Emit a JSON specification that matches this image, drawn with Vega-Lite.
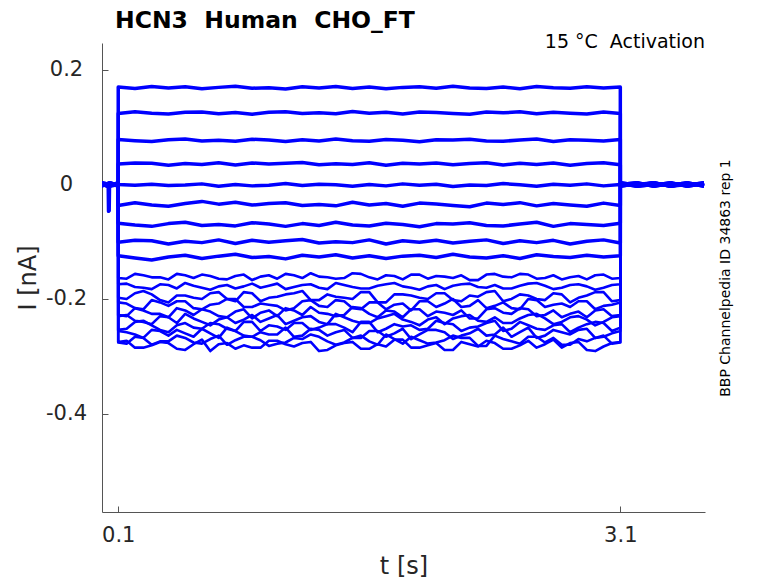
{
  "$schema": "https://vega.github.io/schema/vega-lite/v6.json",
  "width": 603,
  "height": 469,
  "autosize": {"type": "none"},
  "padding": {"left": 102, "top": 43, "right": 73, "bottom": 71},
  "background": "white",
  "config": {"view": {"stroke": null}, "font": "DejaVu Sans"},
  "title": {"text": "HCN3\u00a0 Human\u00a0 CHO_FT", "anchor": "start", "frame": "group", "dx": 13, "offset": -18.5, "baseline": "alphabetic", "fontSize": 23.5, "fontWeight": "bold", "color": "black", "font": "DejaVu Sans"},
  "data": {"values": [
    {"k":1,"t":0,"i":0.0015},{"k":1,"t":0.03,"i":-0.003},{"k":1,"t":0.04,"i":0},{"k":1,"t":0.042,"i":-0.047},{"k":1,"t":0.046,"i":-0.046},{"k":1,"t":0.048,"i":0},{"k":1,"t":0.0999,"i":0},
    {"k":1,"t":0.1,"i":0.170},{"k":1,"t":0.2,"i":0.1675},{"k":1,"t":0.3,"i":0.171},{"k":1,"t":0.4,"i":0.1685},{"k":1,"t":0.5,"i":0.1705},{"k":1,"t":0.6,"i":0.167},{"k":1,"t":0.7,"i":0.1695},{"k":1,"t":0.8,"i":0.1715},{"k":1,"t":0.9,"i":0.168},{"k":1,"t":1,"i":0.169},{"k":1,"t":1.1,"i":0.1665},{"k":1,"t":1.2,"i":0.1705},{"k":1,"t":1.3,"i":0.1685},{"k":1,"t":1.4,"i":0.171},{"k":1,"t":1.5,"i":0.1675},{"k":1,"t":1.6,"i":0.170},{"k":1,"t":1.7,"i":0.167},{"k":1,"t":1.8,"i":0.1695},{"k":1,"t":1.9,"i":0.1705},{"k":1,"t":2,"i":0.168},{"k":1,"t":2.1,"i":0.1715},{"k":1,"t":2.2,"i":0.1685},{"k":1,"t":2.3,"i":0.1675},{"k":1,"t":2.4,"i":0.170},{"k":1,"t":2.5,"i":0.167},{"k":1,"t":2.6,"i":0.171},{"k":1,"t":2.7,"i":0.169},{"k":1,"t":2.8,"i":0.168},{"k":1,"t":2.9,"i":0.1705},{"k":1,"t":3,"i":0.1685},{"k":1,"t":3.1,"i":0.170},
    {"k":1,"t":3.1001,"i":0.003},{"k":1,"t":3.2,"i":-0.0015},{"k":1,"t":3.3,"i":0.003},{"k":1,"t":3.4,"i":-0.003},{"k":1,"t":3.5,"i":0.0015},{"k":1,"t":3.6,"i":-0.0015},

    {"k":2,"t":0,"i":-0.0015},{"k":2,"t":0.05,"i":0.0015},{"k":2,"t":0.0999,"i":-0.003},
    {"k":2,"t":0.1,"i":0.124},{"k":2,"t":0.2,"i":0.127},{"k":2,"t":0.3,"i":0.1245},{"k":2,"t":0.4,"i":0.123},{"k":2,"t":0.5,"i":0.126},{"k":2,"t":0.6,"i":0.1265},{"k":2,"t":0.7,"i":0.1235},{"k":2,"t":0.8,"i":0.1255},{"k":2,"t":0.9,"i":0.1225},{"k":2,"t":1,"i":0.126},{"k":2,"t":1.1,"i":0.127},{"k":2,"t":1.2,"i":0.124},{"k":2,"t":1.3,"i":0.125},{"k":2,"t":1.4,"i":0.1235},{"k":2,"t":1.5,"i":0.1275},{"k":2,"t":1.6,"i":0.1245},{"k":2,"t":1.7,"i":0.126},{"k":2,"t":1.8,"i":0.123},{"k":2,"t":1.9,"i":0.1265},{"k":2,"t":2,"i":0.1255},{"k":2,"t":2.1,"i":0.124},{"k":2,"t":2.2,"i":0.1225},{"k":2,"t":2.3,"i":0.1265},{"k":2,"t":2.4,"i":0.125},{"k":2,"t":2.5,"i":0.127},{"k":2,"t":2.6,"i":0.1235},{"k":2,"t":2.7,"i":0.126},{"k":2,"t":2.8,"i":0.1245},{"k":2,"t":2.9,"i":0.123},{"k":2,"t":3,"i":0.1265},{"k":2,"t":3.1,"i":0.124},
    {"k":2,"t":3.1001,"i":-0.003},{"k":2,"t":3.2,"i":0.0015},{"k":2,"t":3.3,"i":-0.0015},{"k":2,"t":3.4,"i":0.003},{"k":2,"t":3.5,"i":-0.003},{"k":2,"t":3.6,"i":0.0015},

    {"k":3,"t":0,"i":0.003},{"k":3,"t":0.05,"i":0},{"k":3,"t":0.0999,"i":0.0015},
    {"k":3,"t":0.1,"i":0.0785},{"k":3,"t":0.2,"i":0.0765},{"k":3,"t":0.3,"i":0.075},{"k":3,"t":0.4,"i":0.078},{"k":3,"t":0.5,"i":0.0795},{"k":3,"t":0.6,"i":0.076},{"k":3,"t":0.7,"i":0.077},{"k":3,"t":0.8,"i":0.0755},{"k":3,"t":0.9,"i":0.079},{"k":3,"t":1,"i":0.0775},{"k":3,"t":1.1,"i":0.075},{"k":3,"t":1.2,"i":0.078},{"k":3,"t":1.3,"i":0.076},{"k":3,"t":1.4,"i":0.0795},{"k":3,"t":1.5,"i":0.0765},{"k":3,"t":1.6,"i":0.0755},{"k":3,"t":1.7,"i":0.0785},{"k":3,"t":1.8,"i":0.077},{"k":3,"t":1.9,"i":0.0745},{"k":3,"t":2,"i":0.078},{"k":3,"t":2.1,"i":0.0775},{"k":3,"t":2.2,"i":0.079},{"k":3,"t":2.3,"i":0.076},{"k":3,"t":2.4,"i":0.0755},{"k":3,"t":2.5,"i":0.0775},{"k":3,"t":2.6,"i":0.0795},{"k":3,"t":2.7,"i":0.075},{"k":3,"t":2.8,"i":0.078},{"k":3,"t":2.9,"i":0.077},{"k":3,"t":3,"i":0.076},{"k":3,"t":3.1,"i":0.0785},
    {"k":3,"t":3.1001,"i":0},{"k":3,"t":3.2,"i":0.003},{"k":3,"t":3.3,"i":-0.003},{"k":3,"t":3.4,"i":0.0015},{"k":3,"t":3.5,"i":-0.0015},{"k":3,"t":3.6,"i":0.003},

    {"k":4,"t":0,"i":-0.003},{"k":4,"t":0.05,"i":0.003},{"k":4,"t":0.0999,"i":-0.0015},
    {"k":4,"t":0.1,"i":0.0355},{"k":4,"t":0.2,"i":0.0375},{"k":4,"t":0.3,"i":0.037},{"k":4,"t":0.4,"i":0.0335},{"k":4,"t":0.5,"i":0.0365},{"k":4,"t":0.6,"i":0.035},{"k":4,"t":0.7,"i":0.038},{"k":4,"t":0.8,"i":0.034},{"k":4,"t":0.9,"i":0.0375},{"k":4,"t":1,"i":0.0355},{"k":4,"t":1.1,"i":0.037},{"k":4,"t":1.2,"i":0.0385},{"k":4,"t":1.3,"i":0.0345},{"k":4,"t":1.4,"i":0.036},{"k":4,"t":1.5,"i":0.035},{"k":4,"t":1.6,"i":0.038},{"k":4,"t":1.7,"i":0.0335},{"k":4,"t":1.8,"i":0.037},{"k":4,"t":1.9,"i":0.0355},{"k":4,"t":2,"i":0.0375},{"k":4,"t":2.1,"i":0.0345},{"k":4,"t":2.2,"i":0.0365},{"k":4,"t":2.3,"i":0.038},{"k":4,"t":2.4,"i":0.034},{"k":4,"t":2.5,"i":0.037},{"k":4,"t":2.6,"i":0.035},{"k":4,"t":2.7,"i":0.0375},{"k":4,"t":2.8,"i":0.0335},{"k":4,"t":2.9,"i":0.0365},{"k":4,"t":3,"i":0.038},{"k":4,"t":3.1,"i":0.0345},
    {"k":4,"t":3.1001,"i":0.0015},{"k":4,"t":3.2,"i":-0.003},{"k":4,"t":3.3,"i":0},{"k":4,"t":3.4,"i":-0.0015},{"k":4,"t":3.5,"i":0.003},{"k":4,"t":3.6,"i":-0.003},

    {"k":5,"t":0,"i":0},{"k":5,"t":0.05,"i":-0.0015},{"k":5,"t":0.0999,"i":0.003},
    {"k":5,"t":0.1,"i":0},{"k":5,"t":0.2,"i":-0.0015},{"k":5,"t":0.3,"i":0.0005},{"k":5,"t":0.4,"i":-0.002},{"k":5,"t":0.5,"i":-0.001},{"k":5,"t":0.6,"i":0.001},{"k":5,"t":0.7,"i":-0.003},{"k":5,"t":0.8,"i":0},{"k":5,"t":0.9,"i":-0.0025},{"k":5,"t":1,"i":-0.0015},{"k":5,"t":1.1,"i":0.0015},{"k":5,"t":1.2,"i":-0.002},{"k":5,"t":1.3,"i":0.0005},{"k":5,"t":1.4,"i":-0.0005},{"k":5,"t":1.5,"i":-0.003},{"k":5,"t":1.6,"i":0},{"k":5,"t":1.7,"i":-0.0025},{"k":5,"t":1.8,"i":0.001},{"k":5,"t":1.9,"i":-0.0015},{"k":5,"t":2,"i":0.0005},{"k":5,"t":2.1,"i":-0.0035},{"k":5,"t":2.2,"i":-0.001},{"k":5,"t":2.3,"i":-0.002},{"k":5,"t":2.4,"i":0.0015},{"k":5,"t":2.5,"i":-0.0005},{"k":5,"t":2.6,"i":-0.003},{"k":5,"t":2.7,"i":0.0005},{"k":5,"t":2.8,"i":-0.0015},{"k":5,"t":2.9,"i":0.001},{"k":5,"t":3,"i":-0.0025},{"k":5,"t":3.1,"i":0},
    {"k":5,"t":3.1001,"i":-0.0015},{"k":5,"t":3.2,"i":0},{"k":5,"t":3.3,"i":0.003},{"k":5,"t":3.4,"i":-0.003},{"k":5,"t":3.5,"i":0},{"k":5,"t":3.6,"i":0.0015},

    {"k":6,"t":0,"i":0.0015},{"k":6,"t":0.05,"i":-0.003},{"k":6,"t":0.0999,"i":0},
    {"k":6,"t":0.1,"i":-0.0366},{"k":6,"t":0.2,"i":-0.0318},{"k":6,"t":0.3,"i":-0.0358},{"k":6,"t":0.4,"i":-0.0382},{"k":6,"t":0.5,"i":-0.0334},{"k":6,"t":0.6,"i":-0.0296},{"k":6,"t":0.7,"i":-0.0344},{"k":6,"t":0.8,"i":-0.0312},{"k":6,"t":0.9,"i":-0.036},{"k":6,"t":1,"i":-0.0334},{"k":6,"t":1.1,"i":-0.0318},{"k":6,"t":1.2,"i":-0.0366},{"k":6,"t":1.3,"i":-0.035},{"k":6,"t":1.4,"i":-0.0374},{"k":6,"t":1.5,"i":-0.031},{"k":6,"t":1.6,"i":-0.0358},{"k":6,"t":1.7,"i":-0.0334},{"k":6,"t":1.8,"i":-0.0382},{"k":6,"t":1.9,"i":-0.0326},{"k":6,"t":2,"i":-0.0342},{"k":6,"t":2.1,"i":-0.0366},{"k":6,"t":2.2,"i":-0.039},{"k":6,"t":2.3,"i":-0.0326},{"k":6,"t":2.4,"i":-0.035},{"k":6,"t":2.5,"i":-0.0318},{"k":6,"t":2.6,"i":-0.0374},{"k":6,"t":2.7,"i":-0.0334},{"k":6,"t":2.8,"i":-0.0358},{"k":6,"t":2.9,"i":-0.0382},{"k":6,"t":3,"i":-0.0326},{"k":6,"t":3.1,"i":-0.0366},
    {"k":6,"t":3.1001,"i":0.003},{"k":6,"t":3.2,"i":-0.0015},{"k":6,"t":3.3,"i":0.003},{"k":6,"t":3.4,"i":-0.003},{"k":6,"t":3.5,"i":0.0015},{"k":6,"t":3.6,"i":-0.0015},

    {"k":7,"t":0,"i":-0.0015},{"k":7,"t":0.05,"i":0.0015},{"k":7,"t":0.0999,"i":-0.003},
    {"k":7,"t":0.1,"i":-0.0676},{"k":7,"t":0.2,"i":-0.0708},{"k":7,"t":0.3,"i":-0.0732},{"k":7,"t":0.4,"i":-0.0684},{"k":7,"t":0.5,"i":-0.066},{"k":7,"t":0.6,"i":-0.0716},{"k":7,"t":0.7,"i":-0.070},{"k":7,"t":0.8,"i":-0.0724},{"k":7,"t":0.9,"i":-0.0668},{"k":7,"t":1,"i":-0.0692},{"k":7,"t":1.1,"i":-0.0732},{"k":7,"t":1.2,"i":-0.0684},{"k":7,"t":1.3,"i":-0.0716},{"k":7,"t":1.4,"i":-0.066},{"k":7,"t":1.5,"i":-0.0708},{"k":7,"t":1.6,"i":-0.0724},{"k":7,"t":1.7,"i":-0.0676},{"k":7,"t":1.8,"i":-0.070},{"k":7,"t":1.9,"i":-0.074},{"k":7,"t":2,"i":-0.0684},{"k":7,"t":2.1,"i":-0.0692},{"k":7,"t":2.2,"i":-0.0668},{"k":7,"t":2.3,"i":-0.0716},{"k":7,"t":2.4,"i":-0.0724},{"k":7,"t":2.5,"i":-0.0692},{"k":7,"t":2.6,"i":-0.066},{"k":7,"t":2.7,"i":-0.0732},{"k":7,"t":2.8,"i":-0.0684},{"k":7,"t":2.9,"i":-0.070},{"k":7,"t":3,"i":-0.0716},{"k":7,"t":3.1,"i":-0.0676},
    {"k":7,"t":3.1001,"i":-0.003},{"k":7,"t":3.2,"i":0.0015},{"k":7,"t":3.3,"i":-0.0015},{"k":7,"t":3.4,"i":0.003},{"k":7,"t":3.5,"i":-0.003},{"k":7,"t":3.6,"i":0.0015},

    {"k":8,"t":0,"i":0.003},{"k":8,"t":0.05,"i":0},{"k":8,"t":0.0999,"i":0.0015},
    {"k":8,"t":0.1,"i":-0.1008},{"k":8,"t":0.2,"i":-0.0976},{"k":8,"t":0.3,"i":-0.0984},{"k":8,"t":0.4,"i":-0.104},{"k":8,"t":0.5,"i":-0.0992},{"k":8,"t":0.6,"i":-0.1016},{"k":8,"t":0.7,"i":-0.0968},{"k":8,"t":0.8,"i":-0.1032},{"k":8,"t":0.9,"i":-0.0976},{"k":8,"t":1,"i":-0.1008},{"k":8,"t":1.1,"i":-0.0984},{"k":8,"t":1.2,"i":-0.096},{"k":8,"t":1.3,"i":-0.1024},{"k":8,"t":1.4,"i":-0.100},{"k":8,"t":1.5,"i":-0.1016},{"k":8,"t":1.6,"i":-0.0968},{"k":8,"t":1.7,"i":-0.104},{"k":8,"t":1.8,"i":-0.0984},{"k":8,"t":1.9,"i":-0.1008},{"k":8,"t":2,"i":-0.0976},{"k":8,"t":2.1,"i":-0.1024},{"k":8,"t":2.2,"i":-0.0992},{"k":8,"t":2.3,"i":-0.0968},{"k":8,"t":2.4,"i":-0.1032},{"k":8,"t":2.5,"i":-0.0984},{"k":8,"t":2.6,"i":-0.1016},{"k":8,"t":2.7,"i":-0.0976},{"k":8,"t":2.8,"i":-0.104},{"k":8,"t":2.9,"i":-0.0992},{"k":8,"t":3,"i":-0.0968},{"k":8,"t":3.1,"i":-0.1024},
    {"k":8,"t":3.1001,"i":0},{"k":8,"t":3.2,"i":0.003},{"k":8,"t":3.3,"i":-0.003},{"k":8,"t":3.4,"i":0.0015},{"k":8,"t":3.5,"i":-0.0015},{"k":8,"t":3.6,"i":0.003},

    {"k":9,"t":0,"i":-0.003},{"k":9,"t":0.05,"i":0.003},{"k":9,"t":0.0999,"i":-0.0015},
    {"k":9,"t":0.1,"i":-0.1244},{"k":9,"t":0.2,"i":-0.1284},{"k":9,"t":0.3,"i":-0.132},{"k":9,"t":0.4,"i":-0.1268},{"k":9,"t":0.5,"i":-0.1236},{"k":9,"t":0.6,"i":-0.1292},{"k":9,"t":0.7,"i":-0.1252},{"k":9,"t":0.8,"i":-0.122},{"k":9,"t":0.9,"i":-0.1276},{"k":9,"t":1,"i":-0.126},{"k":9,"t":1.1,"i":-0.13},{"k":9,"t":1.2,"i":-0.1236},{"k":9,"t":1.3,"i":-0.1268},{"k":9,"t":1.4,"i":-0.1228},{"k":9,"t":1.5,"i":-0.1284},{"k":9,"t":1.6,"i":-0.1244},{"k":9,"t":1.7,"i":-0.1292},{"k":9,"t":1.8,"i":-0.1252},{"k":9,"t":1.9,"i":-0.1236},{"k":9,"t":2,"i":-0.1276},{"k":9,"t":2.1,"i":-0.122},{"k":9,"t":2.2,"i":-0.1268},{"k":9,"t":2.3,"i":-0.1284},{"k":9,"t":2.4,"i":-0.1244},{"k":9,"t":2.5,"i":-0.1292},{"k":9,"t":2.6,"i":-0.1228},{"k":9,"t":2.7,"i":-0.126},{"k":9,"t":2.8,"i":-0.1276},{"k":9,"t":2.9,"i":-0.1236},{"k":9,"t":3,"i":-0.1268},{"k":9,"t":3.1,"i":-0.1244},
    {"k":9,"t":3.1001,"i":0.0015},{"k":9,"t":3.2,"i":-0.003},{"k":9,"t":3.3,"i":0},{"k":9,"t":3.4,"i":-0.0015},{"k":9,"t":3.5,"i":0.003},{"k":9,"t":3.6,"i":-0.003},

    {"k":10,"t":0,"i":0},{"k":10,"t":0.05,"i":-0.0015},{"k":10,"t":0.0999,"i":0.003},
    {"k":10,"t":0.1,"i":-0.1634},{"k":10,"t":0.2,"i":-0.1562},{"k":10,"t":0.3,"i":-0.1622},{"k":10,"t":0.4,"i":-0.1658},{"k":10,"t":0.5,"i":-0.1586},{"k":10,"t":0.6,"i":-0.1574},{"k":10,"t":0.7,"i":-0.1646},{"k":10,"t":0.8,"i":-0.1598},{"k":10,"t":0.9,"i":-0.167},{"k":10,"t":1,"i":-0.1586},{"k":10,"t":1.1,"i":-0.1562},{"k":10,"t":1.2,"i":-0.1634},{"k":10,"t":1.3,"i":-0.161},{"k":10,"t":1.4,"i":-0.1646},{"k":10,"t":1.5,"i":-0.155},{"k":10,"t":1.6,"i":-0.1622},{"k":10,"t":1.7,"i":-0.1586},{"k":10,"t":1.8,"i":-0.1658},{"k":10,"t":1.9,"i":-0.1574},{"k":10,"t":2,"i":-0.1598},{"k":10,"t":2.1,"i":-0.1634},{"k":10,"t":2.2,"i":-0.167},{"k":10,"t":2.3,"i":-0.1574},{"k":10,"t":2.4,"i":-0.161},{"k":10,"t":2.5,"i":-0.1562},{"k":10,"t":2.6,"i":-0.1646},{"k":10,"t":2.7,"i":-0.1586},{"k":10,"t":2.8,"i":-0.1622},{"k":10,"t":2.9,"i":-0.1658},{"k":10,"t":3,"i":-0.1574},{"k":10,"t":3.1,"i":-0.1634},
    {"k":10,"t":0.15,"i":-0.1646},{"k":10,"t":0.25,"i":-0.1586},{"k":10,"t":0.35,"i":-0.1622},{"k":10,"t":0.45,"i":-0.1562},{"k":10,"t":0.55,"i":-0.1634},{"k":10,"t":0.65,"i":-0.1598},{"k":10,"t":0.75,"i":-0.1658},{"k":10,"t":0.85,"i":-0.1574},{"k":10,"t":0.95,"i":-0.161},{"k":10,"t":1.05,"i":-0.1646},{"k":10,"t":1.15,"i":-0.1586},{"k":10,"t":1.25,"i":-0.155},{"k":10,"t":1.35,"i":-0.1622},{"k":10,"t":1.45,"i":-0.1634},{"k":10,"t":1.55,"i":-0.1562},{"k":10,"t":1.65,"i":-0.1658},{"k":10,"t":1.75,"i":-0.1598},{"k":10,"t":1.85,"i":-0.1574},{"k":10,"t":1.95,"i":-0.1646},{"k":10,"t":2.05,"i":-0.161},{"k":10,"t":2.15,"i":-0.1586},{"k":10,"t":2.25,"i":-0.167},{"k":10,"t":2.35,"i":-0.1562},{"k":10,"t":2.45,"i":-0.1622},{"k":10,"t":2.55,"i":-0.1574},{"k":10,"t":2.65,"i":-0.1634},{"k":10,"t":2.75,"i":-0.1658},{"k":10,"t":2.85,"i":-0.1598},{"k":10,"t":2.95,"i":-0.1586},{"k":10,"t":3.05,"i":-0.1646},
    {"k":10,"t":3.1001,"i":-0.0015},{"k":10,"t":3.2,"i":0},{"k":10,"t":3.3,"i":0.003},{"k":10,"t":3.4,"i":-0.003},{"k":10,"t":3.5,"i":0},{"k":10,"t":3.6,"i":0.0015},

    {"k":11,"t":0,"i":0.0015},{"k":11,"t":0.05,"i":-0.003},{"k":11,"t":0.0999,"i":0},
    {"k":11,"t":0.1,"i":-0.1744},{"k":11,"t":0.2,"i":-0.1792},{"k":11,"t":0.3,"i":-0.1828},{"k":11,"t":0.4,"i":-0.1756},{"k":11,"t":0.5,"i":-0.172},{"k":11,"t":0.6,"i":-0.1804},{"k":11,"t":0.7,"i":-0.178},{"k":11,"t":0.8,"i":-0.1816},{"k":11,"t":0.9,"i":-0.1732},{"k":11,"t":1,"i":-0.1768},{"k":11,"t":1.1,"i":-0.1828},{"k":11,"t":1.2,"i":-0.1756},{"k":11,"t":1.3,"i":-0.1804},{"k":11,"t":1.4,"i":-0.172},{"k":11,"t":1.5,"i":-0.1792},{"k":11,"t":1.6,"i":-0.1816},{"k":11,"t":1.7,"i":-0.1744},{"k":11,"t":1.8,"i":-0.178},{"k":11,"t":1.9,"i":-0.184},{"k":11,"t":2,"i":-0.1756},{"k":11,"t":2.1,"i":-0.1768},{"k":11,"t":2.2,"i":-0.1732},{"k":11,"t":2.3,"i":-0.1804},{"k":11,"t":2.4,"i":-0.1816},{"k":11,"t":2.5,"i":-0.1768},{"k":11,"t":2.6,"i":-0.172},{"k":11,"t":2.7,"i":-0.1828},{"k":11,"t":2.8,"i":-0.1756},{"k":11,"t":2.9,"i":-0.178},{"k":11,"t":3,"i":-0.1804},{"k":11,"t":3.1,"i":-0.1744},
    {"k":11,"t":0.15,"i":-0.1732},{"k":11,"t":0.25,"i":-0.1804},{"k":11,"t":0.35,"i":-0.1744},{"k":11,"t":0.45,"i":-0.1816},{"k":11,"t":0.55,"i":-0.1768},{"k":11,"t":0.65,"i":-0.184},{"k":11,"t":0.75,"i":-0.1756},{"k":11,"t":0.85,"i":-0.178},{"k":11,"t":0.95,"i":-0.1804},{"k":11,"t":1.05,"i":-0.1732},{"k":11,"t":1.15,"i":-0.1792},{"k":11,"t":1.25,"i":-0.1744},{"k":11,"t":1.35,"i":-0.1828},{"k":11,"t":1.45,"i":-0.1756},{"k":11,"t":1.55,"i":-0.1816},{"k":11,"t":1.65,"i":-0.1768},{"k":11,"t":1.75,"i":-0.172},{"k":11,"t":1.85,"i":-0.1804},{"k":11,"t":1.95,"i":-0.178},{"k":11,"t":2.05,"i":-0.1828},{"k":11,"t":2.15,"i":-0.1744},{"k":11,"t":2.25,"i":-0.1792},{"k":11,"t":2.35,"i":-0.1756},{"k":11,"t":2.45,"i":-0.1816},{"k":11,"t":2.55,"i":-0.1732},{"k":11,"t":2.65,"i":-0.1768},{"k":11,"t":2.75,"i":-0.1804},{"k":11,"t":2.85,"i":-0.1744},{"k":11,"t":2.95,"i":-0.184},{"k":11,"t":3.05,"i":-0.1756},
    {"k":11,"t":3.1001,"i":0.003},{"k":11,"t":3.2,"i":-0.0015},{"k":11,"t":3.3,"i":0.003},{"k":11,"t":3.4,"i":-0.003},{"k":11,"t":3.5,"i":0.0015},{"k":11,"t":3.6,"i":-0.0015},

    {"k":12,"t":0,"i":-0.0015},{"k":12,"t":0.05,"i":0.0015},{"k":12,"t":0.0999,"i":-0.003},
    {"k":12,"t":0.1,"i":-0.198},{"k":12,"t":0.2,"i":-0.190},{"k":12,"t":0.3,"i":-0.192},{"k":12,"t":0.4,"i":-0.206},{"k":12,"t":0.5,"i":-0.194},{"k":12,"t":0.6,"i":-0.200},{"k":12,"t":0.7,"i":-0.188},{"k":12,"t":0.8,"i":-0.204},{"k":12,"t":0.9,"i":-0.190},{"k":12,"t":1,"i":-0.198},{"k":12,"t":1.1,"i":-0.192},{"k":12,"t":1.2,"i":-0.186},{"k":12,"t":1.3,"i":-0.202},{"k":12,"t":1.4,"i":-0.196},{"k":12,"t":1.5,"i":-0.200},{"k":12,"t":1.6,"i":-0.188},{"k":12,"t":1.7,"i":-0.206},{"k":12,"t":1.8,"i":-0.192},{"k":12,"t":1.9,"i":-0.198},{"k":12,"t":2,"i":-0.190},{"k":12,"t":2.1,"i":-0.202},{"k":12,"t":2.2,"i":-0.194},{"k":12,"t":2.3,"i":-0.188},{"k":12,"t":2.4,"i":-0.204},{"k":12,"t":2.5,"i":-0.192},{"k":12,"t":2.6,"i":-0.200},{"k":12,"t":2.7,"i":-0.190},{"k":12,"t":2.8,"i":-0.206},{"k":12,"t":2.9,"i":-0.194},{"k":12,"t":3,"i":-0.188},{"k":12,"t":3.1,"i":-0.202},
    {"k":12,"t":0.15,"i":-0.200},{"k":12,"t":0.25,"i":-0.186},{"k":12,"t":0.35,"i":-0.202},{"k":12,"t":0.45,"i":-0.194},{"k":12,"t":0.55,"i":-0.198},{"k":12,"t":0.65,"i":-0.190},{"k":12,"t":0.75,"i":-0.200},{"k":12,"t":0.85,"i":-0.188},{"k":12,"t":0.95,"i":-0.204},{"k":12,"t":1.05,"i":-0.196},{"k":12,"t":1.15,"i":-0.190},{"k":12,"t":1.25,"i":-0.202},{"k":12,"t":1.35,"i":-0.192},{"k":12,"t":1.45,"i":-0.198},{"k":12,"t":1.55,"i":-0.188},{"k":12,"t":1.65,"i":-0.206},{"k":12,"t":1.75,"i":-0.192},{"k":12,"t":1.85,"i":-0.194},{"k":12,"t":1.95,"i":-0.200},{"k":12,"t":2.05,"i":-0.190},{"k":12,"t":2.15,"i":-0.204},{"k":12,"t":2.25,"i":-0.196},{"k":12,"t":2.35,"i":-0.186},{"k":12,"t":2.45,"i":-0.200},{"k":12,"t":2.55,"i":-0.194},{"k":12,"t":2.65,"i":-0.202},{"k":12,"t":2.75,"i":-0.192},{"k":12,"t":2.85,"i":-0.198},{"k":12,"t":2.95,"i":-0.188},{"k":12,"t":3.05,"i":-0.204},
    {"k":12,"t":3.1001,"i":-0.003},{"k":12,"t":3.2,"i":0.0015},{"k":12,"t":3.3,"i":-0.0015},{"k":12,"t":3.4,"i":0.003},{"k":12,"t":3.5,"i":-0.003},{"k":12,"t":3.6,"i":0.0015},

    {"k":13,"t":0,"i":0.003},{"k":13,"t":0.05,"i":0},{"k":13,"t":0.0999,"i":0.0015},
    {"k":13,"t":0.1,"i":-0.206},{"k":13,"t":0.2,"i":-0.216},{"k":13,"t":0.3,"i":-0.202},{"k":13,"t":0.4,"i":-0.212},{"k":13,"t":0.5,"i":-0.204},{"k":13,"t":0.6,"i":-0.218},{"k":13,"t":0.7,"i":-0.208},{"k":13,"t":0.8,"i":-0.200},{"k":13,"t":0.9,"i":-0.214},{"k":13,"t":1,"i":-0.210},{"k":13,"t":1.1,"i":-0.220},{"k":13,"t":1.2,"i":-0.204},{"k":13,"t":1.3,"i":-0.212},{"k":13,"t":1.4,"i":-0.202},{"k":13,"t":1.5,"i":-0.216},{"k":13,"t":1.6,"i":-0.206},{"k":13,"t":1.7,"i":-0.218},{"k":13,"t":1.8,"i":-0.208},{"k":13,"t":1.9,"i":-0.204},{"k":13,"t":2,"i":-0.214},{"k":13,"t":2.1,"i":-0.200},{"k":13,"t":2.2,"i":-0.212},{"k":13,"t":2.3,"i":-0.216},{"k":13,"t":2.4,"i":-0.206},{"k":13,"t":2.5,"i":-0.218},{"k":13,"t":2.6,"i":-0.202},{"k":13,"t":2.7,"i":-0.210},{"k":13,"t":2.8,"i":-0.214},{"k":13,"t":2.9,"i":-0.204},{"k":13,"t":3,"i":-0.212},{"k":13,"t":3.1,"i":-0.206},
    {"k":13,"t":0.15,"i":-0.208},{"k":13,"t":0.25,"i":-0.218},{"k":13,"t":0.35,"i":-0.206},{"k":13,"t":0.45,"i":-0.204},{"k":13,"t":0.55,"i":-0.216},{"k":13,"t":0.65,"i":-0.210},{"k":13,"t":0.75,"i":-0.200},{"k":13,"t":0.85,"i":-0.214},{"k":13,"t":0.95,"i":-0.208},{"k":13,"t":1.05,"i":-0.212},{"k":13,"t":1.15,"i":-0.216},{"k":13,"t":1.25,"i":-0.202},{"k":13,"t":1.35,"i":-0.214},{"k":13,"t":1.45,"i":-0.204},{"k":13,"t":1.55,"i":-0.218},{"k":13,"t":1.65,"i":-0.206},{"k":13,"t":1.75,"i":-0.210},{"k":13,"t":1.85,"i":-0.220},{"k":13,"t":1.95,"i":-0.204},{"k":13,"t":2.05,"i":-0.208},{"k":13,"t":2.15,"i":-0.214},{"k":13,"t":2.25,"i":-0.202},{"k":13,"t":2.35,"i":-0.212},{"k":13,"t":2.45,"i":-0.216},{"k":13,"t":2.55,"i":-0.200},{"k":13,"t":2.65,"i":-0.214},{"k":13,"t":2.75,"i":-0.208},{"k":13,"t":2.85,"i":-0.204},{"k":13,"t":2.95,"i":-0.218},{"k":13,"t":3.05,"i":-0.210},
    {"k":13,"t":3.1001,"i":0},{"k":13,"t":3.2,"i":0.003},{"k":13,"t":3.3,"i":-0.003},{"k":13,"t":3.4,"i":0.0015},{"k":13,"t":3.5,"i":-0.0015},{"k":13,"t":3.6,"i":0.003},

    {"k":14,"t":0,"i":-0.003},{"k":14,"t":0.05,"i":0.003},{"k":14,"t":0.0999,"i":-0.0015},
    {"k":14,"t":0.1,"i":-0.228},{"k":14,"t":0.2,"i":-0.216},{"k":14,"t":0.3,"i":-0.226},{"k":14,"t":0.4,"i":-0.232},{"k":14,"t":0.5,"i":-0.220},{"k":14,"t":0.6,"i":-0.218},{"k":14,"t":0.7,"i":-0.230},{"k":14,"t":0.8,"i":-0.222},{"k":14,"t":0.9,"i":-0.234},{"k":14,"t":1,"i":-0.220},{"k":14,"t":1.1,"i":-0.216},{"k":14,"t":1.2,"i":-0.228},{"k":14,"t":1.3,"i":-0.224},{"k":14,"t":1.4,"i":-0.230},{"k":14,"t":1.5,"i":-0.214},{"k":14,"t":1.6,"i":-0.226},{"k":14,"t":1.7,"i":-0.220},{"k":14,"t":1.8,"i":-0.232},{"k":14,"t":1.9,"i":-0.218},{"k":14,"t":2,"i":-0.222},{"k":14,"t":2.1,"i":-0.228},{"k":14,"t":2.2,"i":-0.234},{"k":14,"t":2.3,"i":-0.218},{"k":14,"t":2.4,"i":-0.224},{"k":14,"t":2.5,"i":-0.216},{"k":14,"t":2.6,"i":-0.230},{"k":14,"t":2.7,"i":-0.220},{"k":14,"t":2.8,"i":-0.226},{"k":14,"t":2.9,"i":-0.232},{"k":14,"t":3,"i":-0.218},{"k":14,"t":3.1,"i":-0.228},
    {"k":14,"t":0.15,"i":-0.230},{"k":14,"t":0.25,"i":-0.220},{"k":14,"t":0.35,"i":-0.226},{"k":14,"t":0.45,"i":-0.216},{"k":14,"t":0.55,"i":-0.228},{"k":14,"t":0.65,"i":-0.222},{"k":14,"t":0.75,"i":-0.232},{"k":14,"t":0.85,"i":-0.218},{"k":14,"t":0.95,"i":-0.224},{"k":14,"t":1.05,"i":-0.230},{"k":14,"t":1.15,"i":-0.220},{"k":14,"t":1.25,"i":-0.214},{"k":14,"t":1.35,"i":-0.226},{"k":14,"t":1.45,"i":-0.228},{"k":14,"t":1.55,"i":-0.216},{"k":14,"t":1.65,"i":-0.232},{"k":14,"t":1.75,"i":-0.222},{"k":14,"t":1.85,"i":-0.218},{"k":14,"t":1.95,"i":-0.230},{"k":14,"t":2.05,"i":-0.224},{"k":14,"t":2.15,"i":-0.220},{"k":14,"t":2.25,"i":-0.234},{"k":14,"t":2.35,"i":-0.216},{"k":14,"t":2.45,"i":-0.226},{"k":14,"t":2.55,"i":-0.218},{"k":14,"t":2.65,"i":-0.228},{"k":14,"t":2.75,"i":-0.232},{"k":14,"t":2.85,"i":-0.222},{"k":14,"t":2.95,"i":-0.220},{"k":14,"t":3.05,"i":-0.230},
    {"k":14,"t":3.1001,"i":0.0015},{"k":14,"t":3.2,"i":-0.003},{"k":14,"t":3.3,"i":0},{"k":14,"t":3.4,"i":-0.0015},{"k":14,"t":3.5,"i":0.003},{"k":14,"t":3.6,"i":-0.003},

    {"k":15,"t":0,"i":0},{"k":15,"t":0.05,"i":-0.0015},{"k":15,"t":0.0999,"i":0.003},
    {"k":15,"t":0.1,"i":-0.230},{"k":15,"t":0.2,"i":-0.238},{"k":15,"t":0.3,"i":-0.244},{"k":15,"t":0.4,"i":-0.232},{"k":15,"t":0.5,"i":-0.226},{"k":15,"t":0.6,"i":-0.240},{"k":15,"t":0.7,"i":-0.236},{"k":15,"t":0.8,"i":-0.242},{"k":15,"t":0.9,"i":-0.228},{"k":15,"t":1,"i":-0.234},{"k":15,"t":1.1,"i":-0.244},{"k":15,"t":1.2,"i":-0.232},{"k":15,"t":1.3,"i":-0.240},{"k":15,"t":1.4,"i":-0.226},{"k":15,"t":1.5,"i":-0.238},{"k":15,"t":1.6,"i":-0.242},{"k":15,"t":1.7,"i":-0.230},{"k":15,"t":1.8,"i":-0.236},{"k":15,"t":1.9,"i":-0.246},{"k":15,"t":2,"i":-0.232},{"k":15,"t":2.1,"i":-0.234},{"k":15,"t":2.2,"i":-0.228},{"k":15,"t":2.3,"i":-0.240},{"k":15,"t":2.4,"i":-0.242},{"k":15,"t":2.5,"i":-0.234},{"k":15,"t":2.6,"i":-0.226},{"k":15,"t":2.7,"i":-0.244},{"k":15,"t":2.8,"i":-0.232},{"k":15,"t":2.9,"i":-0.236},{"k":15,"t":3,"i":-0.240},{"k":15,"t":3.1,"i":-0.230},
    {"k":15,"t":0.15,"i":-0.228},{"k":15,"t":0.25,"i":-0.240},{"k":15,"t":0.35,"i":-0.230},{"k":15,"t":0.45,"i":-0.242},{"k":15,"t":0.55,"i":-0.234},{"k":15,"t":0.65,"i":-0.246},{"k":15,"t":0.75,"i":-0.232},{"k":15,"t":0.85,"i":-0.236},{"k":15,"t":0.95,"i":-0.240},{"k":15,"t":1.05,"i":-0.228},{"k":15,"t":1.15,"i":-0.238},{"k":15,"t":1.25,"i":-0.230},{"k":15,"t":1.35,"i":-0.244},{"k":15,"t":1.45,"i":-0.232},{"k":15,"t":1.55,"i":-0.242},{"k":15,"t":1.65,"i":-0.234},{"k":15,"t":1.75,"i":-0.226},{"k":15,"t":1.85,"i":-0.240},{"k":15,"t":1.95,"i":-0.236},{"k":15,"t":2.05,"i":-0.244},{"k":15,"t":2.15,"i":-0.230},{"k":15,"t":2.25,"i":-0.238},{"k":15,"t":2.35,"i":-0.232},{"k":15,"t":2.45,"i":-0.242},{"k":15,"t":2.55,"i":-0.228},{"k":15,"t":2.65,"i":-0.234},{"k":15,"t":2.75,"i":-0.240},{"k":15,"t":2.85,"i":-0.230},{"k":15,"t":2.95,"i":-0.246},{"k":15,"t":3.05,"i":-0.232},
    {"k":15,"t":3.1001,"i":-0.0015},{"k":15,"t":3.2,"i":0},{"k":15,"t":3.3,"i":0.003},{"k":15,"t":3.4,"i":-0.003},{"k":15,"t":3.5,"i":0},{"k":15,"t":3.6,"i":0.0015},

    {"k":16,"t":0,"i":0.0015},{"k":16,"t":0.05,"i":-0.003},{"k":16,"t":0.0999,"i":0},
    {"k":16,"t":0.1,"i":-0.254},{"k":16,"t":0.2,"i":-0.240},{"k":16,"t":0.3,"i":-0.246},{"k":16,"t":0.4,"i":-0.258},{"k":16,"t":0.5,"i":-0.242},{"k":16,"t":0.6,"i":-0.252},{"k":16,"t":0.7,"i":-0.244},{"k":16,"t":0.8,"i":-0.256},{"k":16,"t":0.9,"i":-0.240},{"k":16,"t":1,"i":-0.246},{"k":16,"t":1.1,"i":-0.254},{"k":16,"t":1.2,"i":-0.242},{"k":16,"t":1.3,"i":-0.250},{"k":16,"t":1.4,"i":-0.244},{"k":16,"t":1.5,"i":-0.258},{"k":16,"t":1.6,"i":-0.240},{"k":16,"t":1.7,"i":-0.252},{"k":16,"t":1.8,"i":-0.248},{"k":16,"t":1.9,"i":-0.254},{"k":16,"t":2,"i":-0.238},{"k":16,"t":2.1,"i":-0.244},{"k":16,"t":2.2,"i":-0.250},{"k":16,"t":2.3,"i":-0.242},{"k":16,"t":2.4,"i":-0.256},{"k":16,"t":2.5,"i":-0.240},{"k":16,"t":2.6,"i":-0.252},{"k":16,"t":2.7,"i":-0.246},{"k":16,"t":2.8,"i":-0.258},{"k":16,"t":2.9,"i":-0.244},{"k":16,"t":3,"i":-0.242},{"k":16,"t":3.1,"i":-0.250},
    {"k":16,"t":0.15,"i":-0.252},{"k":16,"t":0.25,"i":-0.238},{"k":16,"t":0.35,"i":-0.254},{"k":16,"t":0.45,"i":-0.246},{"k":16,"t":0.55,"i":-0.250},{"k":16,"t":0.65,"i":-0.242},{"k":16,"t":0.75,"i":-0.252},{"k":16,"t":0.85,"i":-0.240},{"k":16,"t":0.95,"i":-0.256},{"k":16,"t":1.05,"i":-0.248},{"k":16,"t":1.15,"i":-0.242},{"k":16,"t":1.25,"i":-0.254},{"k":16,"t":1.35,"i":-0.244},{"k":16,"t":1.45,"i":-0.250},{"k":16,"t":1.55,"i":-0.240},{"k":16,"t":1.65,"i":-0.258},{"k":16,"t":1.75,"i":-0.244},{"k":16,"t":1.85,"i":-0.246},{"k":16,"t":1.95,"i":-0.252},{"k":16,"t":2.05,"i":-0.242},{"k":16,"t":2.15,"i":-0.256},{"k":16,"t":2.25,"i":-0.248},{"k":16,"t":2.35,"i":-0.238},{"k":16,"t":2.45,"i":-0.252},{"k":16,"t":2.55,"i":-0.246},{"k":16,"t":2.65,"i":-0.254},{"k":16,"t":2.75,"i":-0.244},{"k":16,"t":2.85,"i":-0.250},{"k":16,"t":2.95,"i":-0.240},{"k":16,"t":3.05,"i":-0.256},
    {"k":16,"t":3.1001,"i":0.003},{"k":16,"t":3.2,"i":-0.0015},{"k":16,"t":3.3,"i":0.003},{"k":16,"t":3.4,"i":-0.003},{"k":16,"t":3.5,"i":0.0015},{"k":16,"t":3.6,"i":-0.0015},

    {"k":17,"t":0,"i":-0.0015},{"k":17,"t":0.05,"i":0.0015},{"k":17,"t":0.0999,"i":-0.003},
    {"k":17,"t":0.1,"i":-0.256},{"k":17,"t":0.2,"i":-0.262},{"k":17,"t":0.3,"i":-0.254},{"k":17,"t":0.4,"i":-0.264},{"k":17,"t":0.5,"i":-0.260},{"k":17,"t":0.6,"i":-0.252},{"k":17,"t":0.7,"i":-0.268},{"k":17,"t":0.8,"i":-0.256},{"k":17,"t":0.9,"i":-0.266},{"k":17,"t":1,"i":-0.262},{"k":17,"t":1.1,"i":-0.250},{"k":17,"t":1.2,"i":-0.264},{"k":17,"t":1.3,"i":-0.254},{"k":17,"t":1.4,"i":-0.258},{"k":17,"t":1.5,"i":-0.268},{"k":17,"t":1.6,"i":-0.256},{"k":17,"t":1.7,"i":-0.266},{"k":17,"t":1.8,"i":-0.252},{"k":17,"t":1.9,"i":-0.262},{"k":17,"t":2,"i":-0.254},{"k":17,"t":2.1,"i":-0.270},{"k":17,"t":2.2,"i":-0.260},{"k":17,"t":2.3,"i":-0.264},{"k":17,"t":2.4,"i":-0.250},{"k":17,"t":2.5,"i":-0.258},{"k":17,"t":2.6,"i":-0.268},{"k":17,"t":2.7,"i":-0.254},{"k":17,"t":2.8,"i":-0.262},{"k":17,"t":2.9,"i":-0.252},{"k":17,"t":3,"i":-0.266},{"k":17,"t":3.1,"i":-0.256},
    {"k":17,"t":0.15,"i":-0.258},{"k":17,"t":0.25,"i":-0.268},{"k":17,"t":0.35,"i":-0.256},{"k":17,"t":0.45,"i":-0.254},{"k":17,"t":0.55,"i":-0.266},{"k":17,"t":0.65,"i":-0.260},{"k":17,"t":0.75,"i":-0.250},{"k":17,"t":0.85,"i":-0.264},{"k":17,"t":0.95,"i":-0.258},{"k":17,"t":1.05,"i":-0.262},{"k":17,"t":1.15,"i":-0.266},{"k":17,"t":1.25,"i":-0.252},{"k":17,"t":1.35,"i":-0.264},{"k":17,"t":1.45,"i":-0.254},{"k":17,"t":1.55,"i":-0.268},{"k":17,"t":1.65,"i":-0.256},{"k":17,"t":1.75,"i":-0.260},{"k":17,"t":1.85,"i":-0.270},{"k":17,"t":1.95,"i":-0.254},{"k":17,"t":2.05,"i":-0.258},{"k":17,"t":2.15,"i":-0.264},{"k":17,"t":2.25,"i":-0.252},{"k":17,"t":2.35,"i":-0.262},{"k":17,"t":2.45,"i":-0.266},{"k":17,"t":2.55,"i":-0.250},{"k":17,"t":2.65,"i":-0.264},{"k":17,"t":2.75,"i":-0.258},{"k":17,"t":2.85,"i":-0.254},{"k":17,"t":2.95,"i":-0.268},{"k":17,"t":3.05,"i":-0.260},
    {"k":17,"t":3.1001,"i":-0.003},{"k":17,"t":3.2,"i":0.0015},{"k":17,"t":3.3,"i":-0.0015},{"k":17,"t":3.4,"i":0.003},{"k":17,"t":3.5,"i":-0.003},{"k":17,"t":3.6,"i":0.0015},

    {"k":18,"t":0,"i":0.003},{"k":18,"t":0.05,"i":0},{"k":18,"t":0.0999,"i":0.0015},
    {"k":18,"t":0.1,"i":-0.276},{"k":18,"t":0.2,"i":-0.266},{"k":18,"t":0.3,"i":-0.280},{"k":18,"t":0.4,"i":-0.274},{"k":18,"t":0.5,"i":-0.268},{"k":18,"t":0.6,"i":-0.278},{"k":18,"t":0.7,"i":-0.264},{"k":18,"t":0.8,"i":-0.272},{"k":18,"t":0.9,"i":-0.266},{"k":18,"t":1,"i":-0.282},{"k":18,"t":1.1,"i":-0.276},{"k":18,"t":1.2,"i":-0.270},{"k":18,"t":1.3,"i":-0.266},{"k":18,"t":1.4,"i":-0.280},{"k":18,"t":1.5,"i":-0.268},{"k":18,"t":1.6,"i":-0.274},{"k":18,"t":1.7,"i":-0.262},{"k":18,"t":1.8,"i":-0.278},{"k":18,"t":1.9,"i":-0.272},{"k":18,"t":2,"i":-0.276},{"k":18,"t":2.1,"i":-0.264},{"k":18,"t":2.2,"i":-0.268},{"k":18,"t":2.3,"i":-0.282},{"k":18,"t":2.4,"i":-0.270},{"k":18,"t":2.5,"i":-0.278},{"k":18,"t":2.6,"i":-0.266},{"k":18,"t":2.7,"i":-0.268},{"k":18,"t":2.8,"i":-0.280},{"k":18,"t":2.9,"i":-0.274},{"k":18,"t":3,"i":-0.264},{"k":18,"t":3.1,"i":-0.276},
    {"k":18,"t":0.15,"i":-0.278},{"k":18,"t":0.25,"i":-0.268},{"k":18,"t":0.35,"i":-0.274},{"k":18,"t":0.45,"i":-0.264},{"k":18,"t":0.55,"i":-0.276},{"k":18,"t":0.65,"i":-0.270},{"k":18,"t":0.75,"i":-0.280},{"k":18,"t":0.85,"i":-0.266},{"k":18,"t":0.95,"i":-0.272},{"k":18,"t":1.05,"i":-0.278},{"k":18,"t":1.15,"i":-0.268},{"k":18,"t":1.25,"i":-0.262},{"k":18,"t":1.35,"i":-0.274},{"k":18,"t":1.45,"i":-0.276},{"k":18,"t":1.55,"i":-0.264},{"k":18,"t":1.65,"i":-0.280},{"k":18,"t":1.75,"i":-0.270},{"k":18,"t":1.85,"i":-0.266},{"k":18,"t":1.95,"i":-0.278},{"k":18,"t":2.05,"i":-0.272},{"k":18,"t":2.15,"i":-0.268},{"k":18,"t":2.25,"i":-0.282},{"k":18,"t":2.35,"i":-0.264},{"k":18,"t":2.45,"i":-0.274},{"k":18,"t":2.55,"i":-0.266},{"k":18,"t":2.65,"i":-0.276},{"k":18,"t":2.75,"i":-0.280},{"k":18,"t":2.85,"i":-0.270},{"k":18,"t":2.95,"i":-0.268},{"k":18,"t":3.05,"i":-0.278},
    {"k":18,"t":3.1001,"i":0},{"k":18,"t":3.2,"i":0.003},{"k":18,"t":3.3,"i":-0.003},{"k":18,"t":3.4,"i":0.0015},{"k":18,"t":3.5,"i":-0.0015},{"k":18,"t":3.6,"i":0.003},

    {"k":19,"t":0,"i":-0.003},{"k":19,"t":0.05,"i":0.003},{"k":19,"t":0.0999,"i":-0.0015},
    {"k":19,"t":0.1,"i":-0.275},{"k":19,"t":0.2,"i":-0.285},{"k":19,"t":0.3,"i":-0.281},{"k":19,"t":0.4,"i":-0.277},{"k":19,"t":0.5,"i":-0.289},{"k":19,"t":0.6,"i":-0.271},{"k":19,"t":0.7,"i":-0.279},{"k":19,"t":0.8,"i":-0.287},{"k":19,"t":0.9,"i":-0.285},{"k":19,"t":1,"i":-0.273},{"k":19,"t":1.1,"i":-0.279},{"k":19,"t":1.2,"i":-0.277},{"k":19,"t":1.3,"i":-0.291},{"k":19,"t":1.4,"i":-0.281},{"k":19,"t":1.5,"i":-0.275},{"k":19,"t":1.6,"i":-0.287},{"k":19,"t":1.7,"i":-0.283},{"k":19,"t":1.8,"i":-0.271},{"k":19,"t":1.9,"i":-0.285},{"k":19,"t":2,"i":-0.277},{"k":19,"t":2.1,"i":-0.289},{"k":19,"t":2.2,"i":-0.279},{"k":19,"t":2.3,"i":-0.273},{"k":19,"t":2.4,"i":-0.287},{"k":19,"t":2.5,"i":-0.281},{"k":19,"t":2.6,"i":-0.285},{"k":19,"t":2.7,"i":-0.271},{"k":19,"t":2.8,"i":-0.277},{"k":19,"t":2.9,"i":-0.289},{"k":19,"t":3,"i":-0.283},{"k":19,"t":3.1,"i":-0.275},
    {"k":19,"t":0.15,"i":-0.273},{"k":19,"t":0.25,"i":-0.285},{"k":19,"t":0.35,"i":-0.275},{"k":19,"t":0.45,"i":-0.287},{"k":19,"t":0.55,"i":-0.279},{"k":19,"t":0.65,"i":-0.291},{"k":19,"t":0.75,"i":-0.277},{"k":19,"t":0.85,"i":-0.281},{"k":19,"t":0.95,"i":-0.285},{"k":19,"t":1.05,"i":-0.273},{"k":19,"t":1.15,"i":-0.283},{"k":19,"t":1.25,"i":-0.275},{"k":19,"t":1.35,"i":-0.289},{"k":19,"t":1.45,"i":-0.277},{"k":19,"t":1.55,"i":-0.287},{"k":19,"t":1.65,"i":-0.279},{"k":19,"t":1.75,"i":-0.271},{"k":19,"t":1.85,"i":-0.285},{"k":19,"t":1.95,"i":-0.281},{"k":19,"t":2.05,"i":-0.289},{"k":19,"t":2.15,"i":-0.275},{"k":19,"t":2.25,"i":-0.283},{"k":19,"t":2.35,"i":-0.277},{"k":19,"t":2.45,"i":-0.287},{"k":19,"t":2.55,"i":-0.273},{"k":19,"t":2.65,"i":-0.279},{"k":19,"t":2.75,"i":-0.285},{"k":19,"t":2.85,"i":-0.275},{"k":19,"t":2.95,"i":-0.291},{"k":19,"t":3.05,"i":-0.277},
    {"k":19,"t":3.1001,"i":0.0015},{"k":19,"t":3.2,"i":-0.003},{"k":19,"t":3.3,"i":0},{"k":19,"t":3.4,"i":-0.0015},{"k":19,"t":3.5,"i":0.003},{"k":19,"t":3.6,"i":-0.003}
  ]},
  "layer": [
    {
      "transform": [{"filter": "datum.k <= 9"}],
      "mark": {"type": "line", "color": "#0000ff", "strokeWidth": 3.5, "strokeJoin": "round", "clip": true},
      "encoding": {
        "x": {
          "field": "t", "type": "quantitative",
          "scale": {"domain": [0.003, 3.606], "nice": false, "zero": false},
          "axis": {
            "values": [0.1, 3.1], "format": ".1f", "grid": false, "labelFlush": false,
            "title": "t [s]", "titleFont": "DejaVu Sans", "titleFontSize": 24, "titleFontWeight": "normal", "titleColor": "#262626",
            "titleY": 61, "titleBaseline": "alphabetic",
            "labelFont": "DejaVu Sans", "labelFontSize": 21, "labelColor": "#262626", "labelPadding": 18,
            "tickSize": -6, "tickColor": "#555555", "domainColor": "#555555"
          }
        },
        "y": {
          "field": "i", "type": "quantitative",
          "scale": {"domain": [-0.572, 0.247], "nice": false, "zero": false},
          "axis": {
            "values": [-0.4, -0.2, 0, 0.2], "grid": false,
            "labelExpr": "datum.value == 0 ? '0' : (datum.value < 0 ? '-' + format(-datum.value, '.1f') : format(datum.value, '.1f'))",
            "title": "I [nA]", "titleFont": "DejaVu Sans", "titleFontSize": 24, "titleFontWeight": "normal", "titleColor": "#262626",
            "titleX": -67, "titleY": 234.5, "titleAngle": 270, "titleAlign": "center", "titleBaseline": "alphabetic",
            "labelFont": "DejaVu Sans", "labelFontSize": 21, "labelColor": "#262626", "labelAlign": "center", "labelBaseline": "middle", "labelPadding": 42,
            "tickSize": -6, "tickColor": "#555555", "domainColor": "#555555"
          }
        },
        "detail": {"field": "k", "type": "nominal"}
      }
    },
    {
      "transform": [{"filter": "datum.k >= 10"}],
      "mark": {"type": "line", "color": "#0000ff", "strokeWidth": 2.6, "strokeJoin": "round", "clip": true},
      "encoding": {
        "x": {"field": "t", "type": "quantitative"},
        "y": {"field": "i", "type": "quantitative", "axis": null},
        "detail": {"field": "k", "type": "nominal"}
      }
    },
    {
      "transform": [{"filter": "datum.k == 1 && datum.t == 0"}],
      "mark": {"type": "point", "opacity": 0},
      "encoding": {
        "y": {
          "field": "i", "type": "quantitative",
          "axis": {
            "orient": "right", "ticks": false, "labels": false, "domain": false, "grid": false,
            "title": "BBP Channelpedia ID 34863 rep 1", "titleFont": "DejaVu Sans", "titleFontSize": 14, "titleFontWeight": "normal", "titleColor": "black",
            "titleX": 24.5, "titleY": 234.5, "titleAngle": 270, "titleAlign": "center", "titleBaseline": "alphabetic"
          }
        }
      }
    },
    {
      "data": {"values": [{"label": "15 °C\u00a0 Activation"}]},
      "mark": {"type": "text", "align": "right", "baseline": "alphabetic", "dy": 4.5, "fontSize": 19, "font": "DejaVu Sans", "color": "black", "clip": false},
      "encoding": {
        "text": {"field": "label", "type": "nominal"},
        "x": {"datum": 3.606, "type": "quantitative"},
        "y": {"datum": 0.247, "type": "quantitative", "axis": null}
      }
    }
  ],
  "resolve": {"axis": {"y": "independent"}}
}
